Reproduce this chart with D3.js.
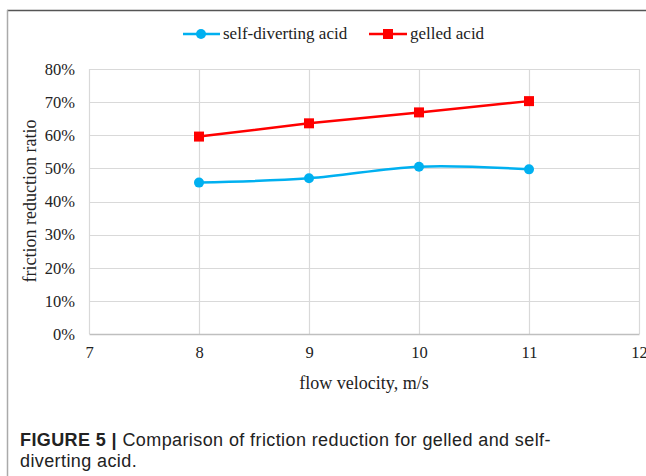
<!DOCTYPE html>
<html>
<head>
<meta charset="utf-8">
<script src="https://cdn.jsdelivr.net/npm/d3@7"></script>
<style>
  body { margin: 0; background: #fff; }
  svg { display: block; }
</style>
</head>
<body>
<svg width="646" height="476"></svg>
<script>
// data
var velocities = [8, 9, 10, 11];
var selfDiverting = [0.457, 0.470, 0.505, 0.497];
var gelled = [0.596, 0.636, 0.669, 0.703];
var xTicks = [7, 8, 9, 10, 11, 12];
var yTicks = [0, 0.1, 0.2, 0.3, 0.4, 0.5, 0.6, 0.7, 0.8];

var svg = d3.select("svg");
var serif = "'Liberation Serif', 'Times New Roman', serif";

// figure frame
svg.append("line").attr("x1", 7).attr("x2", 646).attr("y1", 10.5).attr("y2", 10.5)
    .attr("stroke", "#555").attr("stroke-width", 1.5);
svg.append("line").attr("x1", 7.5).attr("x2", 7.5).attr("y1", 10).attr("y2", 476)
    .attr("stroke", "#aaa").attr("stroke-width", 1.5);

var margin = {left: 89, right: 7, top: 69, bottom: 142};
var width = 646 - margin.left - margin.right,
    height = 476 - margin.top - margin.bottom;

var x = d3.scaleLinear().domain([7, 12]).range([0, width]);
var y = d3.scaleLinear().domain([0, 0.8]).range([height, 0]);

var g = svg.append("g").attr("transform", "translate(" + margin.left + "," + margin.top + ")");

// grid
g.selectAll(".hgrid").data(yTicks.slice(1)).enter().append("line")
    .attr("x1", 0).attr("x2", width)
    .attr("y1", function(d) { return Math.round(y(d)) + 0.5; })
    .attr("y2", function(d) { return Math.round(y(d)) + 0.5; })
    .attr("stroke", "#d9d9d9").attr("stroke-width", 1.2);
g.selectAll(".vgrid").data(xTicks).enter().append("line")
    .attr("x1", function(d) { return Math.round(x(d)) + 0.5; })
    .attr("x2", function(d) { return Math.round(x(d)) + 0.5; })
    .attr("y1", 0).attr("y2", height)
    .attr("stroke", "#d9d9d9").attr("stroke-width", 1.2);

// axes
var xAxis = g.append("g")
    .attr("transform", "translate(0," + height + ")")
    .call(d3.axisBottom(x).tickValues(xTicks).tickSize(0).tickPadding(12).tickFormat(d3.format("d")));
xAxis.select(".domain").attr("stroke", "#bfbfbf").attr("stroke-width", 1.5);
xAxis.selectAll("text").style("font-family", serif).style("font-size", "16.5px").attr("fill", "#222");

var yAxis = g.append("g")
    .call(d3.axisLeft(y).tickValues(yTicks).tickSize(0).tickPadding(14).tickFormat(d3.format(".0%")));
yAxis.select(".domain").remove();
yAxis.selectAll("text").style("font-family", serif).style("font-size", "16.5px").attr("fill", "#222");

// axis titles
svg.append("text").attr("x", 364).attr("y", 389).attr("text-anchor", "middle")
    .style("font-family", serif).style("font-size", "18px").attr("fill", "#222")
    .text("flow velocity, m/s");
svg.append("text").attr("transform", "translate(36,201) rotate(-90)").attr("text-anchor", "middle")
    .style("font-family", serif).style("font-size", "18px").attr("fill", "#222")
    .text("friction reduction ratio");

var blue = "#00b0f0", red = "#ff0000";

var smooth = d3.line()
    .x(function(d, i) { return x(velocities[i]); })
    .y(function(d) { return y(d); })
    .curve(d3.curveCatmullRom.alpha(0.5));
var straight = d3.line()
    .x(function(d, i) { return x(velocities[i]); })
    .y(function(d) { return y(d); });

g.append("path").datum(selfDiverting).attr("d", smooth)
    .attr("fill", "none").attr("stroke", blue).attr("stroke-width", 2.5);
g.selectAll(".dot").data(selfDiverting).enter().append("circle")
    .attr("cx", function(d, i) { return x(velocities[i]); })
    .attr("cy", function(d) { return y(d); })
    .attr("r", 5).attr("fill", blue);

g.append("path").datum(gelled).attr("d", straight)
    .attr("fill", "none").attr("stroke", red).attr("stroke-width", 2.5);
g.selectAll(".sq").data(gelled).enter().append("rect")
    .attr("x", function(d, i) { return x(velocities[i]) - 5; })
    .attr("y", function(d) { return y(d) - 5; })
    .attr("width", 10).attr("height", 10).attr("fill", red);

// legend
var legend = svg.append("g").attr("transform", "translate(0,34)");
legend.append("line").attr("x1", 183).attr("x2", 220).attr("stroke", blue).attr("stroke-width", 2.5);
legend.append("circle").attr("cx", 201).attr("r", 5).attr("fill", blue);
legend.append("text").attr("x", 223).attr("y", 5).style("font-family", serif).style("font-size", "17px")
    .attr("fill", "#222").text("self-diverting acid");
legend.append("line").attr("x1", 369).attr("x2", 407).attr("stroke", red).attr("stroke-width", 2.5);
legend.append("rect").attr("x", 383).attr("y", -5).attr("width", 10).attr("height", 10).attr("fill", red);
legend.append("text").attr("x", 410).attr("y", 5).style("font-family", serif).style("font-size", "17px")
    .attr("fill", "#222").text("gelled acid");

// caption
var sans = "'Liberation Sans', Arial, sans-serif";
var cap = svg.append("text").attr("x", 20).attr("y", 446)
    .style("font-family", sans).style("font-size", "18px").style("letter-spacing", "0.4px").attr("fill", "#222");
cap.append("tspan").style("font-weight", "bold").text("FIGURE 5 | ");
cap.append("tspan").text("Comparison of friction reduction for gelled and self-");
svg.append("text").attr("x", 20).attr("y", 467)
    .style("font-family", sans).style("font-size", "18px").style("letter-spacing", "0.4px").attr("fill", "#222")
    .text("diverting acid.");
</script>
</body>
</html>
